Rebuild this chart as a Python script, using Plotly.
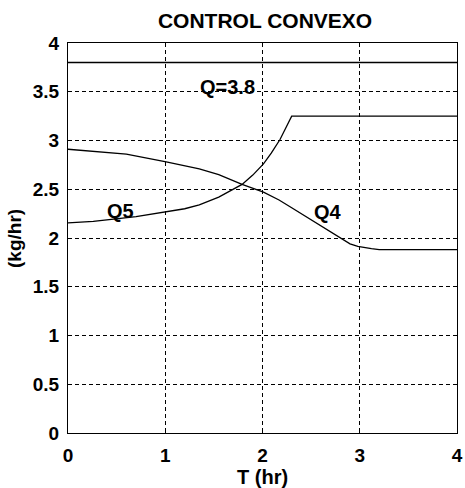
import plotly.graph_objects as go

# Time axis (hr) and flow rates (kg/hr)
t_q5 = [0, 0.26, 0.7, 1.01, 1.2, 1.35, 1.55, 1.79, 1.9, 2.01, 2.09, 2.18, 2.30, 4.0]
q5 = [2.155, 2.17, 2.22, 2.27, 2.30, 2.34, 2.42, 2.55, 2.645, 2.76, 2.87, 3.01, 3.25, 3.25]

t_q4 = [0, 0.6, 1.01, 1.35, 1.55, 1.79, 2.01, 2.17, 2.30, 2.51, 2.72, 2.9, 2.98, 3.05, 3.12, 3.2, 4.0]
q4 = [2.91, 2.86, 2.78, 2.71, 2.65, 2.55, 2.47, 2.39, 2.31, 2.18, 2.05, 1.94, 1.915, 1.90, 1.89, 1.88, 1.88]

t_max = [0, 4]
q_max = [3.8, 3.8]

x_ticks = [0, 1, 2, 3, 4]
y_ticks = [0, 0.5, 1, 1.5, 2, 2.5, 3, 3.5, 4]

line_style = dict(color="black", width=1.3)

W, H = 465, 488
L, R, T, B = 68, 8, 43, 55
pw, ph = W - L - R, H - T - B

fig = go.Figure()
fig.add_trace(go.Scatter(x=t_max, y=q_max, mode="lines", line=line_style, showlegend=False))
fig.add_trace(go.Scatter(x=t_q5, y=q5, mode="lines", line=line_style, showlegend=False))
fig.add_trace(go.Scatter(x=t_q4, y=q4, mode="lines", line=line_style, showlegend=False))

font = dict(family="Liberation Sans, Arial, sans-serif", color="black", weight="bold")
for txt, x, y in [("Q=3.8", 1.64, 3.55), ("Q5", 0.54, 2.28), ("Q4", 2.67, 2.27)]:
    fig.add_annotation(x=x, y=y, text=txt, showarrow=False,
                       font=dict(size=20, **font))

# Axis titles placed in paper coordinates so the plot area keeps its size
fig.add_annotation(x=0.5, xref="paper", y=-(477 - (H - B)) / ph, yref="paper",
                   xanchor="center", yanchor="middle", text="T (hr)",
                   showarrow=False, font=dict(size=20, **font))
fig.add_annotation(x=-(L - 14) / pw, y=0.5, xref="paper", yref="paper",
                   xanchor="center", yanchor="middle", text="(kg/hr)",
                   textangle=-90, showarrow=False, font=dict(size=19, **font))

axis_common = dict(
    showgrid=True, gridcolor="black", gridwidth=1, griddash="4px,3px",
    showline=True, linecolor="black", linewidth=1.2, mirror=True,
    ticks="inside", ticklen=4, tickcolor="black", automargin=False,
    zeroline=False, tickfont=dict(size=19, **font),
)

fig.update_xaxes(range=[0, 4], tickvals=x_ticks, ticktext=[str(v) for v in x_ticks],
                 ticklabelstandoff=5, **axis_common)
fig.update_yaxes(range=[0, 4], tickvals=y_ticks, ticktext=[f"{v:g}" for v in y_ticks],
                 ticklabelstandoff=4, **axis_common)

fig.update_layout(
    width=W, height=H,
    margin=dict(l=L, r=R, t=T, b=B),
    paper_bgcolor="white", plot_bgcolor="white",
    title=dict(text="CONTROL CONVEXO", x=0.57, xanchor="center", y=0.957, yanchor="middle",
               font=dict(size=21, **font)),
)

fig.write_html("out.html")
